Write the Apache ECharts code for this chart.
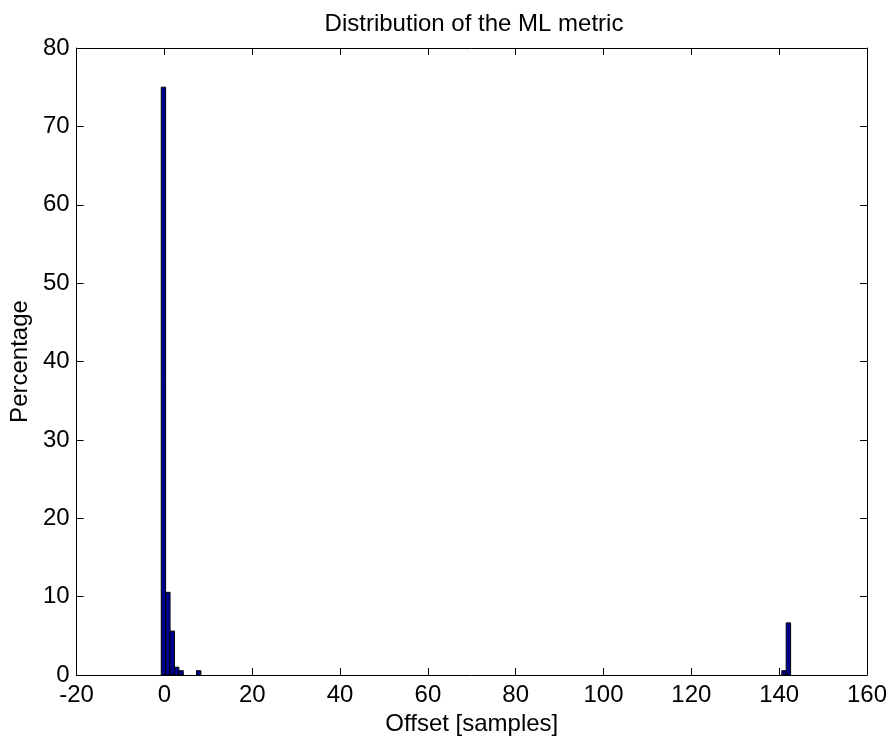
<!DOCTYPE html>
<html>
<head>
<meta charset="utf-8">
<script src="https://cdn.jsdelivr.net/npm/echarts@6/dist/echarts.min.js"></script>
<style>
html,body{margin:0;padding:0;background:#fff;}
#chart{width:895px;height:742px;}
</style>
</head>
<body>
<div id="chart"></div>
<script>
// Histogram bin centers (offset in samples) and percentages
const binCenters = [-0.22, 0.78, 1.79, 2.79, 3.79, 7.8, 141.1, 142.1];
const percentages = [75.0, 10.55, 5.6, 1.0, 0.55, 0.55, 0.55, 6.65];
const binWidth = 1.0025;
const xTicks = [-20, 0, 20, 40, 60, 80, 100, 120, 140, 160];
const yTicks = [0, 10, 20, 30, 40, 50, 60, 70, 80];

const FONT = '"Liberation Sans", Arial, Helvetica, sans-serif';
const chart = echarts.init(document.getElementById('chart'), null, {renderer: 'canvas'});

function axisCommon() {
  return {
    axisLine: {show: true, onZero: false, lineStyle: {color: '#000', width: 1}},
    axisTick: {show: true, inside: true, length: 7, lineStyle: {color: '#000', width: 1}},
    splitLine: {show: false}
  };
}

const data = binCenters.map((c, i) => [c, percentages[i]]);

chart.setOption({
  animation: false,
  backgroundColor: '#fff',
  title: {
    text: 'Distribution of the ML metric',
    left: 469, textAlign: 'center', top: 7,
    textStyle: {fontFamily: FONT, fontSize: 24, fontWeight: 'normal', color: '#000'}
  },
  grid: {left: 73, right: 28, top: 48, bottom: 67, containLabel: false},
  xAxis: [
    Object.assign({
      type: 'value', min: xTicks[0], max: xTicks[xTicks.length - 1], interval: 20,
      position: 'bottom',
      name: 'Offset [samples]', nameLocation: 'middle', nameGap: 28,
      nameTextStyle: {fontFamily: FONT, fontSize: 24, color: '#000'},
      axisLabel: {fontFamily: FONT, fontSize: 24, color: '#000', margin: 8}
    }, axisCommon()),
    Object.assign({
      type: 'value', min: xTicks[0], max: xTicks[xTicks.length - 1], interval: 20,
      position: 'top', axisLabel: {show: false}
    }, axisCommon())
  ],
  yAxis: [
    Object.assign({
      type: 'value', min: yTicks[0], max: yTicks[yTicks.length - 1], interval: 10,
      position: 'left',
      name: 'Percentage', nameLocation: 'middle', nameGap: 38,
      nameTextStyle: {fontFamily: FONT, fontSize: 24, color: '#000'},
      axisLabel: {fontFamily: FONT, fontSize: 24, color: '#000', margin: 7}
    }, axisCommon()),
    Object.assign({
      type: 'value', min: yTicks[0], max: yTicks[yTicks.length - 1], interval: 10,
      position: 'right', axisLabel: {show: false}
    }, axisCommon())
  ],
  series: [{
    type: 'custom',
    xAxisIndex: 0, yAxisIndex: 0,
    data: data,
    encode: {x: 0, y: 1},
    renderItem: function (params, api) {
      const c = api.value(0), v = api.value(1);
      const p0 = api.coord([c - binWidth / 2, v]);
      const p1 = api.coord([c + binWidth / 2, 0]);
      return {
        type: 'rect',
        shape: {x: p0[0], y: p0[1], width: p1[0] - p0[0], height: p1[1] - p0[1]},
        style: {fill: '#00008F', stroke: '#000', lineWidth: 1}
      };
    }
  }]
});
</script>
</body>
</html>
